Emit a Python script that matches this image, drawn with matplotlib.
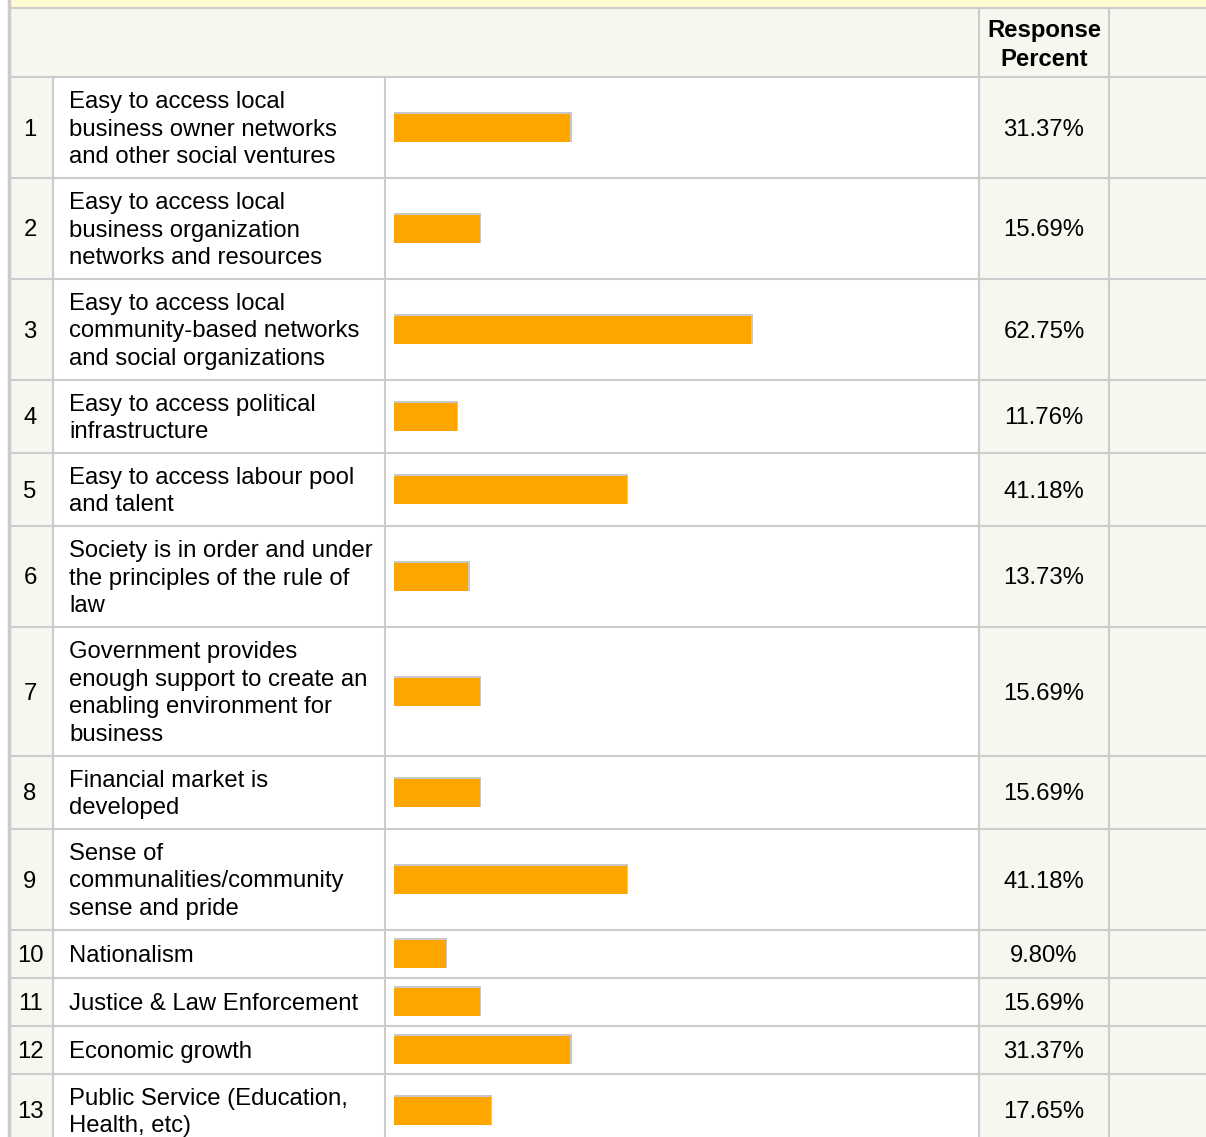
import matplotlib.pyplot as plt
from matplotlib.patches import Rectangle

# data
labels = [
    "Easy to access local\nbusiness owner networks\nand other social ventures",
    "Easy to access local\nbusiness organization\nnetworks and resources",
    "Easy to access local\ncommunity-based networks\nand social organizations",
    "Easy to access political\ninfrastructure",
    "Easy to access labour pool\nand talent",
    "Society is in order and under\nthe principles of the rule of\nlaw",
    "Government provides\nenough support to create an\nenabling environment for\nbusiness",
    "Financial market is\ndeveloped",
    "Sense of\ncommunalities/community\nsense and pride",
    "Nationalism",
    "Justice & Law Enforcement",
    "Economic growth",
    "Public Service (Education,\nHealth, etc)",
]
percents = [31.37, 15.69, 62.75, 11.76, 41.18, 13.73, 15.69, 15.69, 41.18, 9.80, 15.69, 31.37, 17.65]
row_numbers = list(range(1, len(labels) + 1))

W, H = 1206, 1137
GRID = "#cccccc"
OFF = "#f7f7f0"
ORANGE = "#ffa500"
FONT = "Liberation Sans"
FS = 17.2

# layout (pixels)
header_top, header_bot = 9, 77
col_num, col_lab, col_bar, col_pct, col_end = 9, 53, 385, 979, 1109
bar_x0, bar_zero, bar_x100 = 394, 389, 966
row_h = {1: 48, 2: 73, 3: 101, 4: 129}

fig = plt.figure(figsize=(W / 100, H / 100), dpi=100)
ax = fig.add_axes([0, 0, 1, 1])
ax.set_xlim(0, W)
ax.set_ylim(H, 0)
ax.axis("off")

# top band + header
ax.add_patch(Rectangle((col_num, 0), W - col_num, header_top, color="#fffcd2", lw=0))
ax.add_patch(Rectangle((col_num, header_top), W - col_num, header_bot - header_top, color=OFF, lw=0))
ax.text((col_pct + col_end) / 2, (header_top + header_bot) / 2 + 2, "Response\nPercent",
        ha="center", va="center", fontsize=FS, fontweight="bold", family=FONT, linespacing=1.28)
ax.plot([col_num, W], [header_top - 1, header_top - 1], color=GRID, lw=1.5)

# rows
tops = []
y = header_bot
for lab in labels:
    n = lab.count("\n") + 1
    tops.append(y)
    y += row_h[n]
bottoms = tops[1:] + [y]
centers = [(t + b) / 2 for t, b in zip(tops, bottoms)]

for i, (t, b) in enumerate(zip(tops, bottoms)):
    ax.add_patch(Rectangle((col_num, t), col_lab - col_num, b - t, color=OFF, lw=0))
    ax.add_patch(Rectangle((col_pct, t), W - col_pct, b - t, color=OFF, lw=0))
    c = centers[i] + 2
    ax.text((col_num + col_lab) / 2 - 1, c, str(row_numbers[i]), ha="center", va="center",
            fontsize=FS, family=FONT)
    ax.text(69, c, labels[i], ha="left", va="center", fontsize=FS, family=FONT, linespacing=1.33)
    ax.text((col_pct + col_end) / 2, c, f"{percents[i]:.2f}%", ha="center", va="center",
            fontsize=FS, family=FONT)

# grid lines
for t in tops:
    ax.plot([col_num, W], [t, t], color=GRID, lw=1.5)
for x in (col_lab, col_bar):
    ax.plot([x, x], [header_bot, H], color=GRID, lw=1.5)
for x in (col_pct, col_end):
    ax.plot([x, x], [header_top, H], color=GRID, lw=1.5)
ax.plot([col_num, col_num], [0, H], color=GRID, lw=2.5)

# bars in percent units (scale zero sits a little left of the visible bar start)
px = 100 / (bar_x100 - bar_zero)
bax = fig.add_axes([bar_x0 / W, 0, (bar_x100 - bar_x0) / W, 1])
bax.set_xlim((bar_x0 - bar_zero) * px, 100)
bax.set_ylim(H, 0)
bax.axis("off")
bax.patch.set_alpha(0)
bax.barh([c - 1 for c in centers], [p + 1.5 * px for p in percents], height=30, left=0,
         color="#c8c8c8", lw=0)
bax.barh(centers, percents, height=28, left=0, color=ORANGE, lw=0)

fig.savefig("out.png", dpi=100)
